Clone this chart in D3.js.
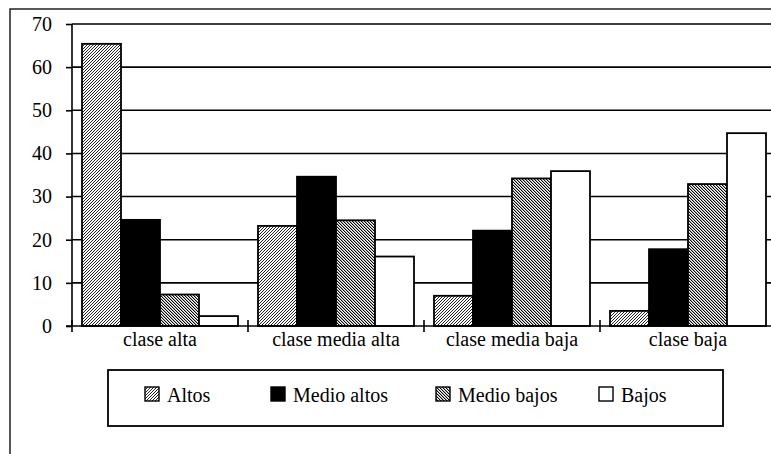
<!DOCTYPE html>
<html>
<head>
<meta charset="utf-8">
<script src="https://cdn.jsdelivr.net/npm/d3@7/dist/d3.min.js"></script>
<style>
  html, body { margin: 0; padding: 0; background: #fff; }
  svg { display: block; }
</style>
</head>
<body>
<svg id="chart" width="771" height="454"></svg>
<script>
const categories = ["clase alta", "clase media alta", "clase media baja", "clase baja"];
const seriesNames = ["Altos", "Medio altos", "Medio bajos", "Bajos"];
const altos      = [65.4, 23.2, 7.0, 3.5];
const medioAltos = [24.6, 34.6, 22.1, 17.8];
const medioBajos = [7.3, 24.5, 34.2, 32.9];
const bajos      = [2.3, 16.1, 35.9, 44.7];
const yTicks = [0, 10, 20, 30, 40, 50, 60, 70];

const seriesValues = [altos, medioAltos, medioBajos, bajos];
const fills = ["url(#patAltos)", "#000", "url(#patMedioBajos)", "#fff"];
const FONT = "'Liberation Serif', 'Times New Roman', Times, 'DejaVu Serif', serif";
const FS = "20px";

const svg = d3.select("#chart");
const defs = svg.append("defs");

// Altos: fine "/" hatch
const p1 = defs.append("pattern").attr("id", "patAltos")
  .attr("patternUnits", "userSpaceOnUse").attr("width", 3).attr("height", 3);
p1.append("rect").attr("width", 3).attr("height", 3).attr("fill", "#fff");
[[0,2],[1,1],[2,0]].forEach(([x,y]) => p1.append("rect").attr("x", x).attr("y", y)
  .attr("width", 1).attr("height", 1).attr("fill", "#222").attr("shape-rendering", "crispEdges"));

// Medio bajos: denser "\" hatch
const p2 = defs.append("pattern").attr("id", "patMedioBajos")
  .attr("patternUnits", "userSpaceOnUse").attr("width", 3).attr("height", 3);
p2.append("rect").attr("width", 3).attr("height", 3).attr("fill", "#fff");
[[0,0],[1,1],[2,2],[1,0],[2,1],[0,2]].forEach(([x,y], i) => p2.append("rect").attr("x", x).attr("y", y)
  .attr("width", 1).attr("height", 1).attr("fill", i < 3 ? "#000" : "#aaa").attr("shape-rendering", "crispEdges"));

const plotLeft = 72, plotRight = 776, plotTop = 24, plotBottom = 326;

// outer border (extends past the visible area)
svg.append("rect").attr("x", 10).attr("y", 9).attr("width", 800).attr("height", 500)
  .attr("fill", "none").attr("stroke", "#222").attr("stroke-width", 1.5);

const y = d3.scaleLinear().domain([0, 70]).range([plotBottom, plotTop]);
const x = d3.scaleBand().domain(categories).range([plotLeft, plotRight]).padding(0);
const xs = d3.scaleBand().domain(seriesNames).range([10, x.bandwidth() - 10]).padding(0);

// gridlines
svg.append("g").selectAll("line").data(yTicks.filter(t => t > 0)).join("line")
  .attr("x1", plotLeft).attr("x2", plotRight)
  .attr("y1", d => y(d)).attr("y2", d => y(d))
  .attr("stroke", "#000").attr("stroke-width", 1.6);

// bars
const groups = svg.append("g").selectAll("g").data(categories).join("g")
  .attr("transform", d => `translate(${x(d)},0)`);
groups.selectAll("rect").data((c, ci) => seriesNames.map((s, si) => ({s, si, v: seriesValues[si][ci]}))).join("rect")
  .attr("x", d => xs(d.s)).attr("width", xs.bandwidth())
  .attr("y", d => y(d.v)).attr("height", d => y(0) - y(d.v))
  .attr("fill", d => fills[d.si]).attr("stroke", "#000").attr("stroke-width", 1.8);

// y axis
const yAxis = svg.append("g").attr("transform", `translate(${plotLeft},0)`)
  .call(d3.axisLeft(y).tickValues(yTicks).tickSize(6).tickPadding(14).tickFormat(d3.format("d")));
yAxis.attr("font-family", null).attr("font-size", null);
yAxis.select(".domain").attr("stroke", "#000").attr("stroke-width", 1.6).attr("d", `M0,${plotTop}V${plotBottom}`);
yAxis.selectAll(".tick line").attr("stroke", "#000").attr("stroke-width", 1.6).attr("x1", 0);
yAxis.selectAll(".tick text").style("font-family", FONT).style("font-size", FS).attr("fill", "#000");

// x axis
const xAxis = svg.append("g").attr("transform", `translate(0,${plotBottom})`);
xAxis.append("line").attr("x1", plotLeft - 6).attr("x2", plotRight).attr("y1", 0).attr("y2", 0)
  .attr("stroke", "#000").attr("stroke-width", 1.6);
const bounds = categories.map(c => x(c)).concat([plotRight]);
xAxis.selectAll("line.tk").data(bounds).join("line").attr("class", "tk")
  .attr("x1", d => d).attr("x2", d => d).attr("y1", -6).attr("y2", 6)
  .attr("stroke", "#000").attr("stroke-width", 1.6);
xAxis.selectAll("text").data(categories).join("text")
  .attr("x", d => x(d) + x.bandwidth() / 2).attr("y", 20)
  .attr("text-anchor", "middle").style("font-family", FONT).style("font-size", FS).text(d => d);

// legend
const lg = svg.append("g");
lg.append("rect").attr("x", 108).attr("y", 370).attr("width", 615).attr("height", 56)
  .attr("fill", "#fff").attr("stroke", "#000").attr("stroke-width", 1.8);
const legendX = [145, 271, 436, 599];
const li = lg.selectAll("g.li").data(seriesNames).join("g").attr("class", "li")
  .attr("transform", (d, i) => `translate(${legendX[i]},387)`);
li.append("rect").attr("width", 14).attr("height", 14)
  .attr("fill", (d, i) => fills[i]).attr("stroke", "#000").attr("stroke-width", 1.4);
li.append("text").attr("x", 22).attr("y", 15).style("font-family", FONT).style("font-size", FS).text(d => d);
</script>
</body>
</html>
